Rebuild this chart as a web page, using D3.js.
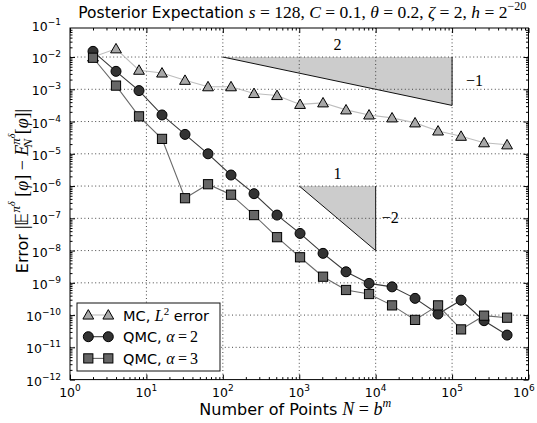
<!DOCTYPE html>
<html>
<head>
<meta charset="utf-8">
<script src="https://cdn.jsdelivr.net/npm/d3@7"></script>
<style>
  body { margin: 0; background: #fff; }
  svg { display: block; }
</style>
</head>
<body>
<svg id="chart" width="537" height="423"></svg>
<script>
// Number of quadrature points N = b^m
const points = [2, 4, 8, 16, 32, 64, 128, 256, 512, 1024, 2048, 4096, 8192,
                16384, 32768, 65536, 131072, 262144, 524288];

// Monte Carlo L2 error
const mcError = [1.0e-2, 1.8e-2, 3.9e-3, 3.2e-3, 1.9e-3, 1.2e-3, 1.2e-3, 7.4e-4,
                 6.4e-4, 3.4e-4, 3.8e-4, 2.3e-4, 1.6e-4, 1.3e-4, 9.1e-5, 5.1e-5,
                 3.5e-5, 2.2e-5, 1.9e-5];

// Higher-order QMC, alpha = 2
const qmcAlpha2 = [1.5e-2, 3.6e-3, 9.1e-4, 1.6e-4, 4.0e-5, 1.0e-5, 2.2e-6, 5.8e-7,
                   1.26e-7, 3.4e-8, 8.2e-9, 2.2e-9, 9.6e-10, 7.5e-10, 3.3e-10,
                   1.08e-10, 2.9e-10, 6.7e-11, 2.4e-11];

// Higher-order QMC, alpha = 3
const qmcAlpha3 = [9.5e-3, 1.3e-3, 1.45e-4, 2.9e-5, 4.2e-7, 1.14e-6, 5.4e-7, 1.26e-7,
                   2.6e-8, 6.2e-9, 1.55e-9, 6.0e-10, 4.5e-10, 2.0e-10, 7.1e-11,
                   2.0e-10, 3.6e-11, 9.6e-11, 8.3e-11];

// Axis tick exponents
const xTickExponents = [0, 1, 2, 3, 4, 5, 6];
const yTickExponents = [-1, -2, -3, -4, -5, -6, -7, -8, -9, -10, -11, -12];

// Reference slope triangles: corners and the run / rise labels
const slopeCorners = [
  { x0: 1e2, x1: 1e5, yTop: 1e-2, yBottom: Math.pow(10, -3.5), run: "2", rise: "\u22121" },
  { x0: 1e3, x1: 1e4, yTop: 1e-6, yBottom: 1e-8, run: "1", rise: "\u22122" }
];

const seriesNames = ["MC", "QMC2", "QMC3"];

// ---------------------------------------------------------------------------
(function draw() {
const svg = d3.select("#chart");
const W = 537;
const pLeft = 70, pRight = 528.5, pTop = 28, pBottom = 379.6;
const sans = "DejaVu Sans";
const serif = "Liberation Serif";

const x = d3.scaleLog().domain([1, 1e6]).range([pLeft, pRight]);
const y = d3.scaleLog().domain([1e-12, Math.pow(10, -1.1)]).range([pBottom, pTop]);

const series = [
  { name: seriesNames[0], values: mcError, line: "#bdbdbd", fill: "#a8a8a8", marker: "triangle" },
  { name: seriesNames[1], values: qmcAlpha2, line: "#3a3a3a", fill: "#333333", marker: "circle" },
  { name: seriesNames[2], values: qmcAlpha3, line: "#6a6a6a", fill: "#666666", marker: "square" }
];

// slope triangles (under the grid)
const tri = svg.append("g");
slopeCorners.forEach(t => {
  tri.append("path")
    .attr("d", `M${x(t.x0)},${y(t.yTop)} L${x(t.x1)},${y(t.yTop)} L${x(t.x1)},${y(t.yBottom)} Z`)
    .attr("fill", "#cccccc").attr("stroke", "none");
  tri.append("path")
    .attr("d", `M${x(t.x0)},${y(t.yTop)} L${x(t.x1)},${y(t.yBottom)} L${x(t.x1)},${y(t.yTop)}`)
    .attr("fill", "none").attr("stroke", "#111").attr("stroke-width", 1);
  const midX = Math.sqrt(t.x0 * t.x1);
  const midY = Math.sqrt(t.yTop * t.yBottom);
  tri.append("text")
    .attr("x", x(midX)).attr("y", y(t.yTop) - 7)
    .attr("text-anchor", "middle")
    .attr("font-family", serif).attr("font-size", 16)
    .text(t.run);
  tri.append("text")
    .attr("x", x(t.x1) + (t.rise === "\u22121" ? 14 : 6)).attr("y", y(midY) + 5)
    .attr("font-family", serif).attr("font-size", 16)
    .text(t.rise);
});

// dotted grid
const grid = svg.append("g").attr("stroke", "#333").attr("stroke-width", 0.9)
  .attr("stroke-dasharray", "1,2.6");
xTickExponents.slice(1, -1).forEach(e => {
  grid.append("line").attr("x1", x(Math.pow(10, e))).attr("x2", x(Math.pow(10, e)))
    .attr("y1", pTop).attr("y2", pBottom);
});
yTickExponents.filter(e => e > -12 && e < -1).forEach(e => {
  grid.append("line").attr("y1", y(Math.pow(10, e))).attr("y2", y(Math.pow(10, e)))
    .attr("x1", pLeft).attr("x2", pRight);
});

// markers
function drawMarker(g, type, cx, cy, fill) {
  if (type === "circle") {
    g.append("circle").attr("cx", cx).attr("cy", cy).attr("r", 5)
      .attr("fill", fill).attr("stroke", "#000").attr("stroke-width", 1);
  } else if (type === "square") {
    g.append("rect").attr("x", cx - 4.6).attr("y", cy - 4.6).attr("width", 9.2).attr("height", 9.2)
      .attr("fill", fill).attr("stroke", "#000").attr("stroke-width", 1);
  } else {
    const h = 5.4;
    g.append("path")
      .attr("d", `M${cx},${cy - h} L${cx + h},${cy + h * 0.75} L${cx - h},${cy + h * 0.75} Z`)
      .attr("fill", fill).attr("stroke", "#000").attr("stroke-width", 1);
  }
}

const line = d3.line().x(d => x(d[0])).y(d => y(d[1]));
const plot = svg.append("g");
series.forEach(s => {
  const data = points.map((n, i) => [n, s.values[i]]);
  plot.append("path").datum(data).attr("d", line)
    .attr("fill", "none").attr("stroke", s.line).attr("stroke-width", 1.1);
  const mg = plot.append("g");
  data.forEach(d => drawMarker(mg, s.marker, x(d[0]), y(d[1]), s.fill));
});

// frame and ticks
const xMajor = xTickExponents.map(e => Math.pow(10, e));
const xMinor = [];
for (let e = 0; e < 6; e++) for (let k = 2; k <= 9; k++) xMinor.push(k * Math.pow(10, e));
const yMajor = yTickExponents.filter(e => Math.pow(10, e) <= y.domain()[1]).map(e => Math.pow(10, e));
const yMinor = [];
for (let e = -12; e < -1; e++) for (let k = 2; k <= 9; k++) {
  const v = k * Math.pow(10, e);
  if (v <= y.domain()[1]) yMinor.push(v);
}

function tickAxis(axisFn, scale, values, size, transform) {
  const a = axisFn(scale).tickValues(values).tickSize(size).tickFormat(() => "");
  const g = svg.append("g").attr("transform", transform).call(a);
  g.select(".domain").remove();
  g.selectAll("line").attr("stroke", "#000").attr("stroke-width", 1);
}
tickAxis(d3.axisBottom, x, xMajor, -5, `translate(0,${pBottom})`);
tickAxis(d3.axisBottom, x, xMinor, -2.5, `translate(0,${pBottom})`);
tickAxis(d3.axisTop, x, xMajor, -5, `translate(0,${pTop})`);
tickAxis(d3.axisTop, x, xMinor, -2.5, `translate(0,${pTop})`);
tickAxis(d3.axisLeft, y, yMajor, -5, `translate(${pLeft},0)`);
tickAxis(d3.axisLeft, y, yMinor, -2.5, `translate(${pLeft},0)`);
tickAxis(d3.axisRight, y, yMajor, -5, `translate(${pRight},0)`);
tickAxis(d3.axisRight, y, yMinor, -2.5, `translate(${pRight},0)`);

svg.append("rect").attr("x", pLeft).attr("y", pTop)
  .attr("width", pRight - pLeft).attr("height", pBottom - pTop)
  .attr("fill", "none").attr("stroke", "#000").attr("stroke-width", 1);

// tick labels: 10 with superscript exponent
function powerLabel(g, e, px, py, anchor) {
  const t = g.append("text").attr("x", px).attr("y", py)
    .attr("text-anchor", anchor).attr("font-family", sans).attr("font-size", 12.5);
  t.append("tspan").text("10");
  t.append("tspan").attr("dy", -6).attr("font-size", 9).text(String(e).replace("-", "\u2212"));
  return t;
}
const labels = svg.append("g");
xTickExponents.forEach(e => {
  const t = powerLabel(labels, e, x(Math.pow(10, e)), 397, "middle");
  // keep the last label inside the canvas
  const bb = t.node().getBBox();
  if (bb.x + bb.width > W - 2) t.attr("x", x(Math.pow(10, e)) - (bb.x + bb.width - (W - 2)));
});
yTickExponents.forEach(e => powerLabel(labels, e, 61, y(Math.pow(10, e)) + 6, "end"));

// mixed sans / math text
function richText(parent, segments) {
  segments.forEach(s => {
    const ts = parent.append("tspan").text(s.t)
      .attr("font-family", s.f || serif)
      .attr("font-style", s.i ? "italic" : "normal")
      .attr("font-size", s.size || null);
    if (s.dy !== undefined) ts.attr("dy", s.dy);
    if (s.dx !== undefined) ts.attr("dx", s.dx);
  });
}

// title
const title = svg.append("text").attr("x", (pLeft + pRight) / 2 + 3).attr("y", 18)
  .attr("text-anchor", "middle").attr("font-size", 17.5).attr("xml:space", "preserve");
richText(title, [
  { t: "Posterior Expectation ", f: sans, size: 15.5 },
  { t: "s", i: true }, { t: " = 128, " },
  { t: "C", i: true }, { t: " = 0.1, " },
  { t: "\u03b8", i: true }, { t: " = 0.2, " },
  { t: "\u03b6", i: true }, { t: " = 2, " },
  { t: "h", i: true }, { t: " = 2" },
  { t: "\u221220", size: 12, dy: -8 }
]);

// x axis label
const xLabel = svg.append("text").attr("x", (pLeft + pRight) / 2 - 4).attr("y", 415)
  .attr("text-anchor", "middle").attr("font-size", 18).attr("xml:space", "preserve");
richText(xLabel, [
  { t: "Number of Points ", f: sans, size: 16 },
  { t: "N", i: true }, { t: " = " }, { t: "b", i: true },
  { t: "m", i: true, size: 12, dy: -8 }
]);

// y axis label
const yLabel = svg.append("text").attr("transform", "rotate(-90)")
  .attr("x", -191).attr("y", 28).attr("text-anchor", "middle")
  .attr("font-size", 18).attr("xml:space", "preserve");
richText(yLabel, [
  { t: "Error ", f: sans, size: 16 },
  { t: "|\ud835\udd3c" },
  { t: "\u03c0", i: true, size: 13, dy: -8 },
  { t: "\u03b4", i: true, size: 10, dy: -5 },
  { t: " [", dy: 13 }, { t: "\u03c6", i: true }, { t: "] \u2212 " },
  { t: "E", i: true },
  { t: "\u03c0", i: true, size: 13, dy: -8 },
  { t: "\u03b4", i: true, size: 10, dy: -5 },
  { t: "N", i: true, size: 13, dx: -14, dy: 17 },
  { t: " [", dy: -4 }, { t: "\u03c6", i: true }, { t: "]|" }
]);

// legend
const lg = svg.append("g");
lg.append("rect").attr("x", 77).attr("y", 303).attr("width", 143).attr("height", 68)
  .attr("fill", "#fff").attr("stroke", "#111").attr("stroke-width", 1);
const legendText = [
  [{ t: "MC, ", f: sans, size: 14.5 }, { t: "L", i: true }, { t: "2", size: 11, dy: -6 },
   { t: " error", f: sans, size: 14.5, dy: 6 }],
  [{ t: "QMC, ", f: sans, size: 14.5 }, { t: "\u03b1", i: true }, { t: "\u2009=\u20092" }],
  [{ t: "QMC, ", f: sans, size: 14.5 }, { t: "\u03b1", i: true }, { t: "\u2009=\u20093" }]
];
series.forEach((s, i) => {
  const cy = 315 + i * 21.7;
  lg.append("line").attr("x1", 88.3).attr("x2", 108.3).attr("y1", cy).attr("y2", cy)
    .attr("stroke", s.line).attr("stroke-width", 1.1);
  drawMarker(lg, s.marker, 88.3, cy, s.fill);
  drawMarker(lg, s.marker, 108.3, cy, s.fill);
  const t = lg.append("text").attr("x", 123).attr("y", cy + 5.5)
    .attr("font-size", 16).attr("xml:space", "preserve");
  richText(t, legendText[i]);
});
})();
</script>
</body>
</html>
